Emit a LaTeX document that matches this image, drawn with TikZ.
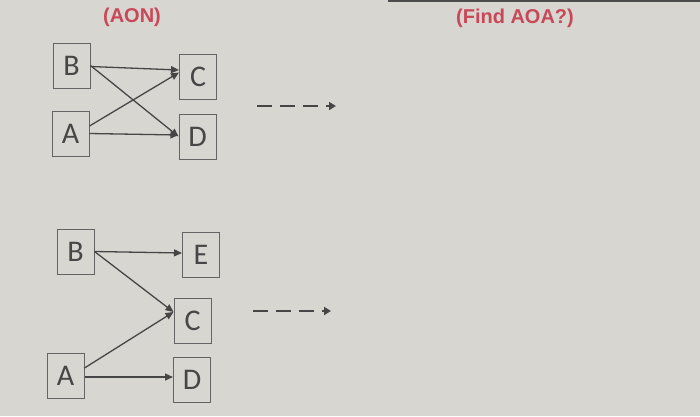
\documentclass[tikz,border=0pt]{standalone}
\usepackage{fontspec}
\setmainfont{Carlito}
\newfontfamily\titlefont{Liberation Sans}
\usetikzlibrary{arrows.meta}
\definecolor{bg}{RGB}{216,214,209}
\definecolor{boxline}{RGB}{100,100,100}
\definecolor{ink}{RGB}{70,70,70}
\definecolor{titlered}{RGB}{200,72,88}
\tikzset{
  actbox/.style={draw=boxline, line width=1pt, minimum width=37pt, minimum height=45pt, inner sep=0pt, text=ink, font=\fontsize{30}{30}\selectfont},
  link/.style={draw=ink, line width=1.3pt, -{Triangle[length=8pt,width=7pt]}},
  dashlink/.style={draw=ink, line width=2.4pt, dash pattern=on 15pt off 8pt, -{Triangle[length=7pt,width=8pt]}},
  titletext/.style={text=titlered, font=\titlefont\bfseries\fontsize{20}{20}\selectfont}
}
\begin{document}
\begin{tikzpicture}[x=1pt,y=-1pt]
\fill[bg] (0,0) rectangle (700,416);
\useasboundingbox (0,0) rectangle (700,416);
\coordinate (edgeL) at (388,1.2);
\coordinate (edgeR) at (700,1.2);
\draw[line width=1.8pt, color=black!70] (edgeL) -- (edgeR);

\node[titletext] (aon) at (132,17) {(AON)};
\node[titletext] (find) at (515,18) {(Find AOA?)};

% top diagram
\node[actbox] (B1) at (71.5,65.5) {B};
\node[actbox] (A1) at (70.5,133.5) {A};
\node[actbox] (C1) at (198,76.5) {C};
\node[actbox] (D1) at (197.5,136.5) {D};
\draw[link] ([yshift=-1pt]B1.east) -- ([yshift=6.5pt]C1.west);
\draw[link] (B1.east) -- (D1.west);
\draw[link] ([yshift=7.5pt]A1.east) -- ([yshift=4pt]C1.west);
\draw[link] (A1.east) -- ([yshift=1.5pt]D1.west);

% bottom diagram
\node[actbox] (B2) at (75.5,251.5) {B};
\node[actbox] (E2) at (201,255) {E};
\node[actbox] (C2) at (192.5,320.5) {C};
\node[actbox] (A2) at (65.5,376) {A};
\node[actbox] (D2) at (192,379.5) {D};
\draw[link] (B2.east) -- ([yshift=2pt]E2.west);
\draw[link] (B2.east) -- ([yshift=8.5pt]C2.west);
\draw[link] ([yshift=8pt]A2.east) -- ([yshift=8.5pt]C2.west);
\draw[link] ([yshift=-1pt]A2.east) -- ([yshift=2.5pt]D2.west);

% dashed arrows
\coordinate (t1) at (257,106);
\coordinate (t2) at (336,106);
\draw[dashlink] (t1) -- (t2);
\coordinate (b1) at (253,311);
\coordinate (b2) at (331,311);
\draw[dashlink] (b1) -- (b2);
\end{tikzpicture}
\end{document}
